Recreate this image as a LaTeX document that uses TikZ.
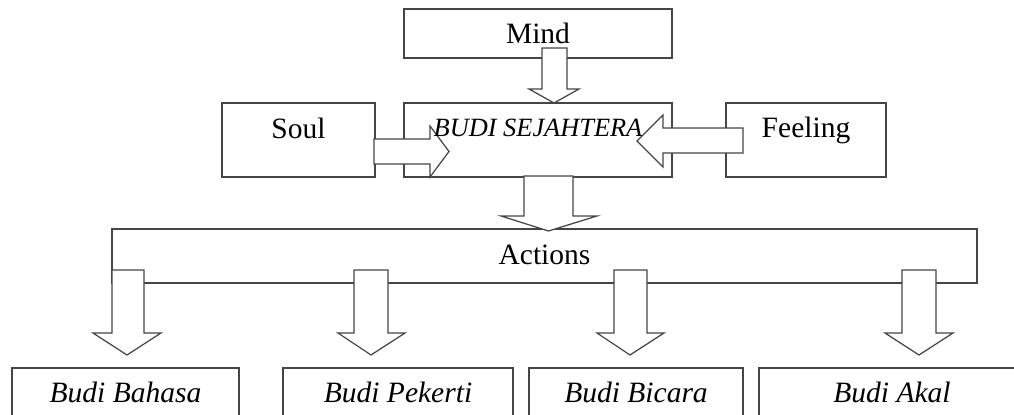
\documentclass[tikz,border=0pt]{standalone}
\usepackage{fontspec}
\setmainfont{Liberation Serif}
\usetikzlibrary{calc}

\begin{document}
\begin{tikzpicture}[x=0.02cm, y=-0.02cm,
  box/.style={draw=ln, line width=0.7pt, inner sep=0pt},
  lbl/.style={anchor=base, inner sep=0pt, font=\fontsize{16.8}{20}\selectfont},
  blk/.style={draw=ln, fill=white, line width=0.7pt, line join=miter}]

\definecolor{ln}{rgb}{0.27,0.27,0.27}

\clip (0,0) rectangle (1014,415);

% boxes
\node[box, minimum width=5.36cm, minimum height=0.98cm] (mind) at (538,33.5) {};
\node[box, minimum width=3.06cm, minimum height=1.48cm] (soul) at (298.5,140) {};
\node[box, minimum width=5.36cm, minimum height=1.48cm] (budi) at (538,140) {};
\node[box, minimum width=3.2cm, minimum height=1.48cm] (feeling) at (806,140) {};
\node[box, minimum width=17.3cm, minimum height=1.08cm] (actions) at (544.5,256) {};
\node[box, minimum width=4.54cm, minimum height=1.44cm] (bahasa) at (125.5,404) {};
\node[box, minimum width=4.6cm, minimum height=1.44cm] (pekerti) at (398,404) {};
\node[box, minimum width=4.28cm, minimum height=1.44cm] (bicara) at (636,404) {};
\node[box, minimum width=5.32cm, minimum height=1.44cm] (akal) at (892,404) {};

% block arrows
\filldraw[blk] (542,48) -- (567,48) -- (567,89) -- (579,89) -- (554,103) -- (529,89) -- (542,89) -- cycle;
\filldraw[blk] (374,139) -- (430,139) -- (430,126) -- (449,151.5) -- (430,177) -- (430,164) -- (374,164) -- cycle;
\filldraw[blk] (743,128) -- (663,128) -- (663,115) -- (637,141) -- (663,167) -- (663,153) -- (743,153) -- cycle;
\filldraw[blk] (524,176) -- (573,176) -- (573,216) -- (597,216) -- (548.5,231) -- (501,216) -- (524,216) -- cycle;
\filldraw[blk] (112,270) -- (144,270) -- (144,333) -- (161,333) -- (127,355) -- (93,333) -- (112,333) -- cycle;
\filldraw[blk] (354,270) -- (388,270) -- (388,333) -- (405,333) -- (371,355) -- (338,333) -- (354,333) -- cycle;
\filldraw[blk] (614,270) -- (647,270) -- (647,333) -- (664,333) -- (630,355) -- (597,333) -- (614,333) -- cycle;
\filldraw[blk] (902,270) -- (936,270) -- (936,333) -- (953,333) -- (919,355) -- (885,333) -- (902,333) -- cycle;

% labels
\node[lbl] (mindtxt) at ($(mind.north)+(0,35)$) {Mind};
\node[lbl] (soultxt) at ($(soul.north)+(0,36)$) {Soul};
\node[lbl, font=\fontsize{15}{18}\selectfont\itshape] (buditxt) at ($(budi.north)+(0,34)$) {BUDI SEJAHTERA};
\node[lbl] (feelingtxt) at ($(feeling.north)+(0,35)$) {Feeling};
\node[lbl] (actionstxt) at ($(actions.north)+(0,36)$) {Actions};
\node[lbl, font=\fontsize{16.8}{20}\selectfont\itshape] (bahasatxt) at ($(bahasa.north)+(0,35)$) {Budi Bahasa};
\node[lbl, font=\fontsize{16.8}{20}\selectfont\itshape] (pekertitxt) at ($(pekerti.north)+(0,35)$) {Budi Pekerti};
\node[lbl, font=\fontsize{16.8}{20}\selectfont\itshape] (bicaratxt) at ($(bicara.north)+(0,35)$) {Budi Bicara};
\node[lbl, font=\fontsize{16.8}{20}\selectfont\itshape] (akaltxt) at ($(akal.north)+(0,35)$) {Budi Akal};

\end{tikzpicture}
\end{document}
